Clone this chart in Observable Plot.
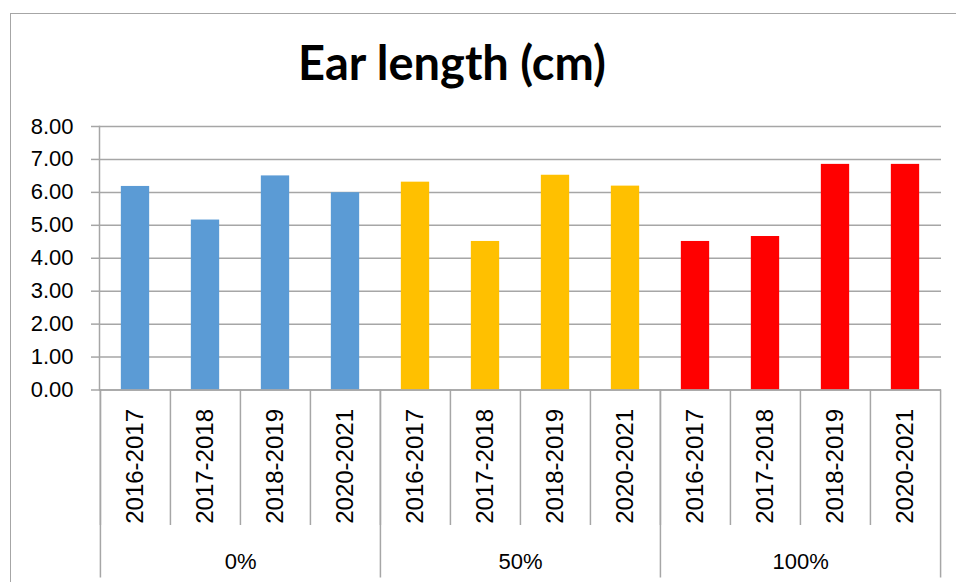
<!DOCTYPE html>
<html>
<head>
<meta charset="utf-8">
<script src="https://cdn.jsdelivr.net/npm/d3@7"></script>
<script src="https://cdn.jsdelivr.net/npm/@observablehq/plot@0.6"></script>
<style>
  html, body { margin: 0; padding: 0; background: #fff; }
  #chart { position: relative; width: 956px; height: 582px; overflow: hidden; }
  #border { position: absolute; left: 10px; top: 13px; width: 1000px; height: 1000px;
            border-left: 1.5px solid #a6a6a6; border-top: 1.5px solid #a6a6a6; }
  #title { position: absolute; left: 0; width: 904px; top: 39px; text-align: center;
           font: 700 47px Lato, "Open Sans", sans-serif; line-height: 1; color: #000; }
  #plot { position: absolute; left: 0; top: 0; }
</style>
</head>
<body>
<div id="chart">
  <div id="border"></div>
  <div id="title">Ear length (cm)</div>
  <div id="plot"></div>
</div>
<script>
// Treatment groups and seasons
const groups = ["0%", "50%", "100%"];
const years = ["2016-2017", "2017-2018", "2018-2019", "2020-2021"];

// Ear length (cm) per season, one array per treatment
const values0 = [6.18, 5.16, 6.50, 5.99];
const values50 = [6.31, 4.51, 6.52, 6.19];
const values100 = [4.51, 4.66, 6.85, 6.85];

const colors = ["#5B9BD5", "#FFC000", "#FF0000"];
const yTicks = [0, 1, 2, 3, 4, 5, 6, 7, 8];

const series = [values0, values50, values100];
const data = groups.flatMap((g, i) =>
  years.map((y, j) => ({group: g, year: y, key: g + "|" + y, value: series[i][j]}))
);
const keys = data.map(d => d.key);
const firstKeys = groups.map(g => g + "|" + years[0]);
const midKeys = groups.map(g => g + "|" + years[1]);
const lastKey = keys[keys.length - 1];

const W = 956, H = 582, mL = 99, mR = 15, mT = 126, mB = 192.5;
const band = (W - mL - mR) / keys.length;
const line = "#a6a6a6";

const chart = Plot.plot({
  width: W,
  height: H,
  marginLeft: mL,
  marginRight: mR,
  marginTop: mT,
  marginBottom: mB,
  style: {background: "transparent", fontFamily: "'Liberation Sans', Arial, sans-serif", fontSize: "22px", color: "#000"},
  x: {type: "band", domain: keys, padding: 0},
  y: {domain: [0, 8]},
  color: {domain: groups, range: colors},
  marks: [
    Plot.gridY({ticks: yTicks, stroke: line, strokeOpacity: 1, strokeWidth: 1.5}),
    Plot.frame({anchor: "left", stroke: line, strokeWidth: 1.5}),
    Plot.axisY({ticks: yTicks, tickSize: 8, tickPadding: 18, stroke: line, strokeWidth: 1.5,
                fill: "#000", tickFormat: d3.format(".2f"), label: null}),
    Plot.barY(data, {x: "key", y: "value", fill: "group", insetLeft: band * 0.297, insetRight: band * 0.297}),
    Plot.ruleY([0], {stroke: line, strokeWidth: 1.5}),
    // cell borders of the two-level category axis
    Plot.axisX({ticks: keys, tickSize: 135.5, stroke: line, strokeWidth: 1.5, fill: "none", label: null, dx: -band / 2}),
    Plot.axisX({ticks: firstKeys, tickSize: 188, stroke: line, strokeWidth: 1.5, fill: "none", label: null, dx: -band / 2}),
    Plot.axisX({ticks: [lastKey], tickSize: 188, stroke: line, strokeWidth: 1.5, fill: "none", label: null, dx: band / 2}),
    // season labels
    Plot.axisX({ticks: keys, tickSize: 0, tickPadding: 19, tickRotate: -90, fontSize: 24,
                tickFormat: k => k.split("|")[1], label: null, fill: "#000"}),
    // treatment labels
    Plot.axisX({ticks: midKeys, tickSize: 0, tickPadding: 163, dx: band / 2,
                tickFormat: k => k.split("|")[0], label: null, fill: "#000"})
  ]
});
document.getElementById("plot").appendChild(chart);
</script>
</body>
</html>
